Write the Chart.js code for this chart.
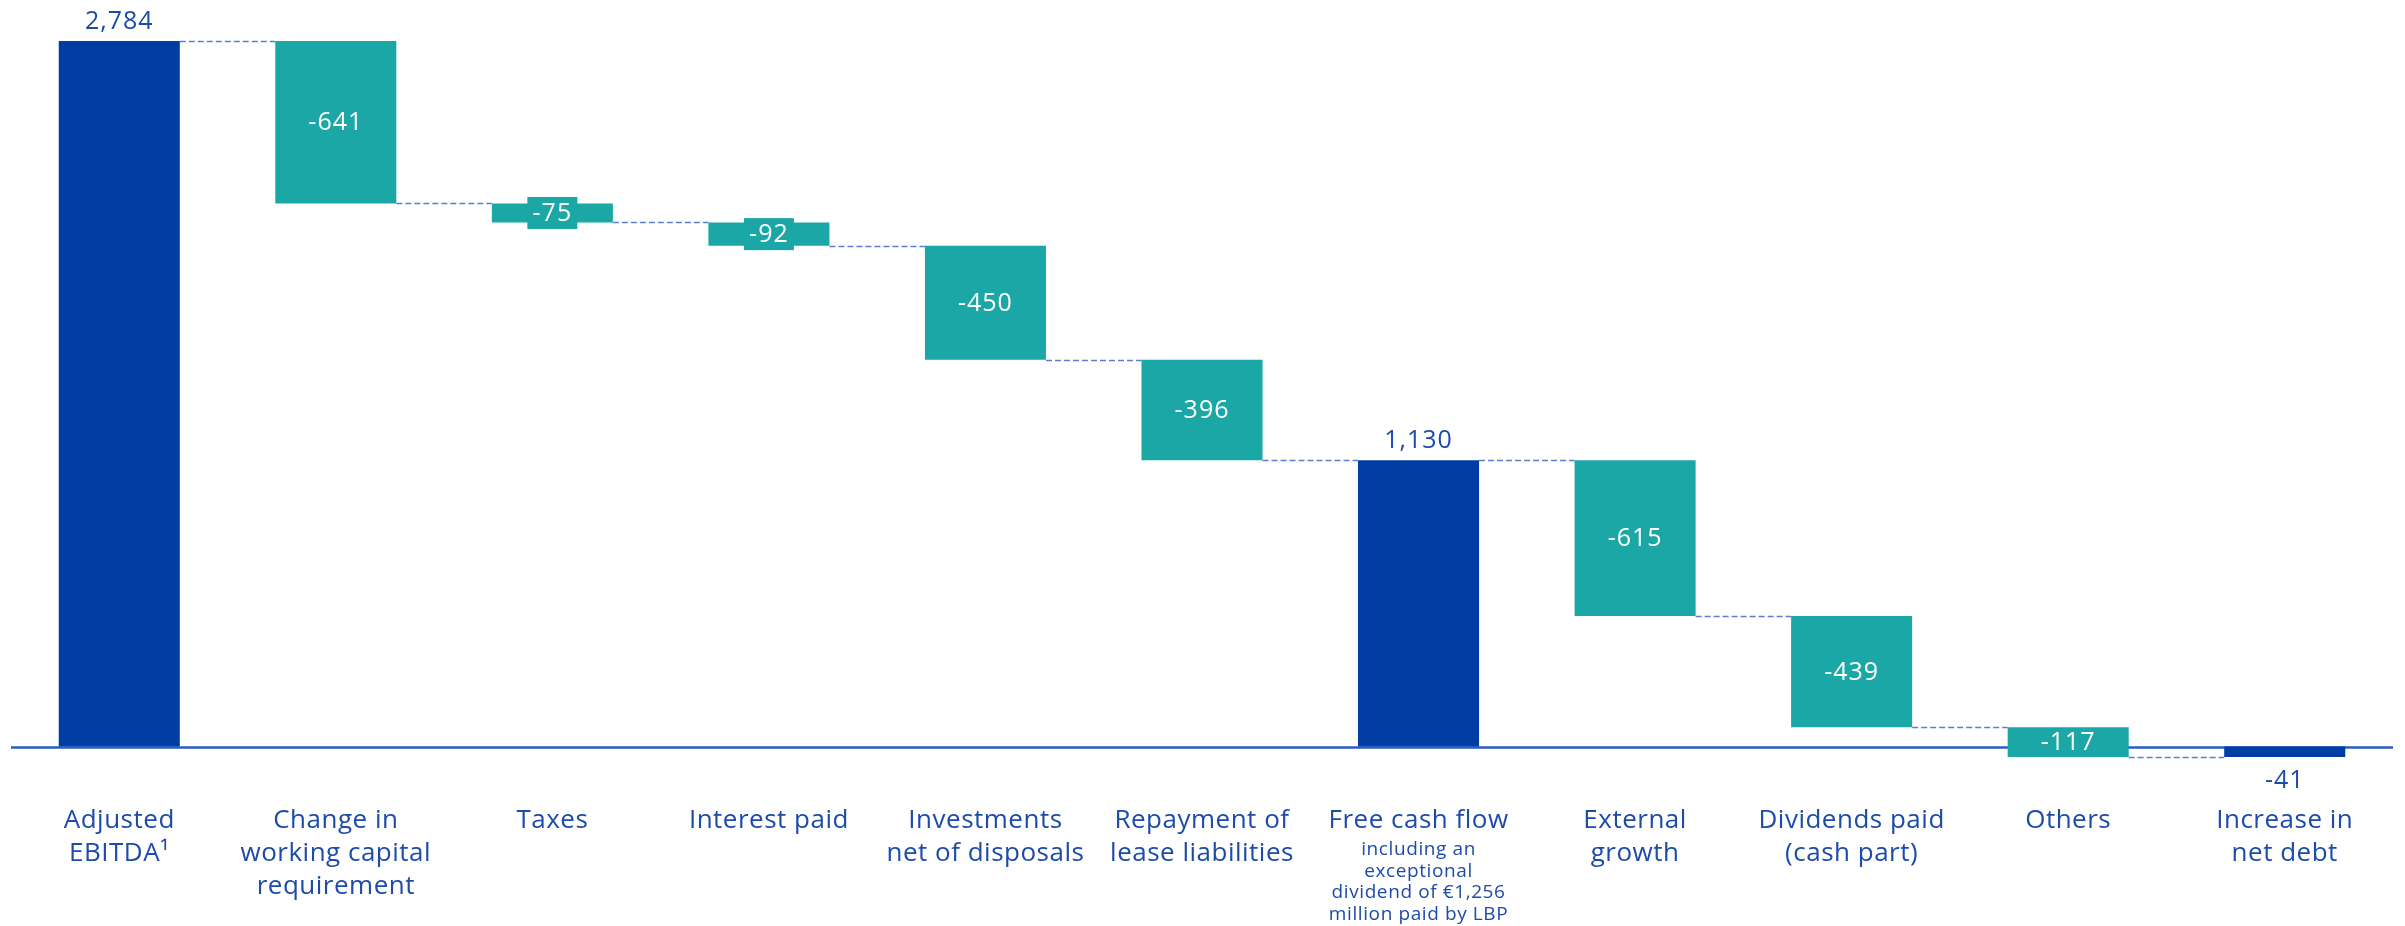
<!DOCTYPE html>
<html>
<head>
<meta charset="utf-8">
<script src="https://cdn.jsdelivr.net/npm/chart.js@4/dist/chart.umd.min.js"></script>
<style>
  html, body { margin: 0; padding: 0; background: #fff; }
  #wf { display: block; }
</style>
</head>
<body>
<canvas id="wf" width="2405" height="926"></canvas>
<script>
const categories = [
    ["Adjusted", "EBITDA\u00B9"],
    ["Change in", "working capital", "requirement"],
    ["Taxes"],
    ["Interest paid"],
    ["Investments", "net of disposals"],
    ["Repayment of", "lease liabilities"],
    ["Free cash flow"],
    ["External", "growth"],
    ["Dividends paid", "(cash part)"],
    ["Others"],
    ["Increase in", "net debt"]
];
const subLabels = [[], [], [], [], [], [],
    ["including an", "exceptional", "dividend of \u20AC1,256", "million paid by LBP"],
    [], [], [], []];
const values = [2784, -641, -75, -92, -450, -396, 1130, -615, -439, -117, -41];
const isTotal = [true, false, false, false, false, false, true, false, false, false, true];

const darkBlue = "#003DA5";
const teal = "#1BA7A6";
const textBlue = "#1C4BA8";
const font = "'Open Sans', 'Noto Sans', sans-serif";

// waterfall ranges + running level after each bar
var ranges = [];
var levels = [];
var run = 0;
for (var i = 0; i < values.length; i++) {
    if (isTotal[i]) {
        ranges.push([0, values[i]]);
        run = values[i];
    } else {
        ranges.push([run, run + values[i]]);
        run = run + values[i];
    }
    levels.push(run);
}
var yMax = Math.max.apply(null, levels.concat([0]));
var yMin = Math.min.apply(null, levels.concat([0]));

const wfPlugin = {
    id: "wf",
    beforeDatasetsDraw(chart) {
        const ctx = chart.ctx;
        const ys = chart.scales.y;
        const area = chart.chartArea;
        const bars = chart.getDatasetMeta(0).data;
        ctx.save();
        // baseline
        ctx.strokeStyle = "#2A5CC4";
        ctx.lineWidth = 2.5;
        var y0 = Math.round(ys.getPixelForValue(0)) + 0.5;
        ctx.beginPath();
        ctx.moveTo(area.left, y0);
        ctx.lineTo(area.right, y0);
        ctx.stroke();
        // connectors
        ctx.strokeStyle = "#5A7FCC";
        ctx.lineWidth = 1.5;
        ctx.setLineDash([6, 3]);
        for (var i = 0; i < bars.length - 1; i++) {
            var a = bars[i], b = bars[i + 1];
            var y = Math.round(ys.getPixelForValue(levels[i])) + 0.5;
            ctx.beginPath();
            ctx.moveTo(a.x + a.width / 2, y);
            ctx.lineTo(b.x - b.width / 2, y);
            ctx.stroke();
        }
        ctx.restore();
    },
    afterDatasetsDraw(chart) {
        const ctx = chart.ctx;
        const bars = chart.getDatasetMeta(0).data;
        const area = chart.chartArea;
        ctx.save();
        ctx.textAlign = "center";
        // value labels
        ctx.letterSpacing = "1px";
        for (var i = 0; i < bars.length; i++) {
            var bar = bars[i];
            var top = Math.min(bar.y, bar.base);
            var bot = Math.max(bar.y, bar.base);
            var txt = values[i].toLocaleString("en-US");
            ctx.font = "400 25px " + font;
            if (isTotal[i]) {
                ctx.fillStyle = textBlue;
                if (values[i] >= 0) {
                    ctx.textBaseline = "alphabetic";
                    ctx.fillText(txt, bar.x, top - 12);
                } else {
                    ctx.textBaseline = "top";
                    ctx.fillText(txt, bar.x, bot + 11);
                }
            } else {
                var mid = (top + bot) / 2;
                if (bot - top < 27) {
                    ctx.fillStyle = teal;
                    ctx.fillRect(bar.x - 25, mid - 16, 50, 32);
                }
                ctx.fillStyle = "#ffffff";
                ctx.textBaseline = "middle";
                ctx.fillText(txt, bar.x, mid + 1);
            }
        }
        // category labels
        ctx.fillStyle = textBlue;
        ctx.textBaseline = "alphabetic";
        for (var i = 0; i < categories.length; i++) {
            var x = chart.scales.x.getPixelForValue(i);
            var y = area.bottom + 71;
            ctx.font = "400 26px " + font;
            ctx.letterSpacing = "0.5px";
            for (var j = 0; j < categories[i].length; j++) {
                ctx.fillText(categories[i][j], x, y + j * 33);
            }
            var sy = y + (categories[i].length - 1) * 33 + 27;
            ctx.font = "400 19px " + font;
            ctx.letterSpacing = "0.6px";
            for (var k = 0; k < subLabels[i].length; k++) {
                ctx.fillText(subLabels[i][k], x, sy + k * 21.7);
            }
        }
        ctx.restore();
    }
};

const chrt = document.getElementById("wf").getContext("2d");
const chartId = new Chart(chrt, {
    type: "bar",
    data: {
        labels: categories,
        datasets: [{
            data: ranges,
            backgroundColor: isTotal.map(t => t ? darkBlue : teal),
            borderWidth: 0,
            borderSkipped: false,
            barPercentage: 0.559,
            categoryPercentage: 1
        }]
    },
    options: {
        responsive: false,
        animation: false,
        devicePixelRatio: 1,
        layout: { padding: { top: 41, bottom: 169, left: 11, right: 12 } },
        plugins: { legend: { display: false }, tooltip: { enabled: false } },
        scales: {
            x: { display: false, grid: { display: false } },
            y: { display: false, min: yMin, max: yMax, grid: { display: false } }
        }
    },
    plugins: [wfPlugin]
});
</script>
</body>
</html>
